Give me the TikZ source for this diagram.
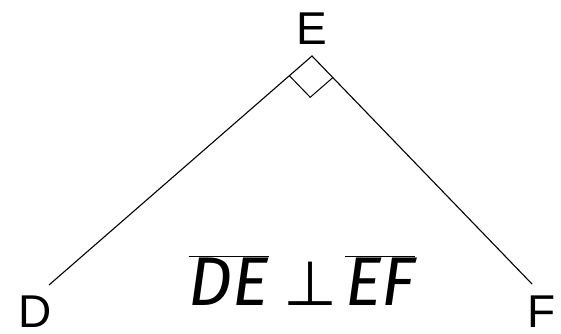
\documentclass[tikz,border=0pt]{standalone}
\usepackage{fontspec}
\setmainfont{Liberation Sans}
\newfontfamily\labelfont{Fira Sans}
\newfontfamily\perpfont{DejaVu Sans}
\usetikzlibrary{calc}
\begin{document}
\begin{tikzpicture}[x=1pt, y=1pt, line width=1.1pt,
    vertexlabel/.style={anchor=base, inner sep=0pt, font=\fontsize{46}{50}\selectfont}]

    \useasboundingbox (0,0) rectangle (561,333);

    \coordinate (d) at (49,48);
    \coordinate (e) at (312,277);
    \coordinate (f) at (532,49);

    \node[vertexlabel] (dlabel) at (35.5,5.5) {D};
    \node[vertexlabel] (elabel) at (311.5,289) {E};
    \node[vertexlabel] (flabel) at (542,5.5) {F};

    \draw (d) -- (e) -- (f);

    % right angle mark
    \coordinate (m1) at ($(e)!30pt!(d)$);
    \coordinate (m2) at ($(e)!30pt!(f)$);
    \draw[line width=1pt] (m1) -- ($(m1)+(m2)-(e)$) -- (m2);

    \node[anchor=base, inner sep=0pt, font=\fontsize{69}{75}\labelfont\itshape] (perp) at (302,28)
        {$\overline{\mbox{DE}}$\hspace{14pt}{\fontsize{62}{66}\perpfont\upshape ⊥}\hspace{8pt}$\overline{\mbox{EF}}$};

\end{tikzpicture}
\end{document}
